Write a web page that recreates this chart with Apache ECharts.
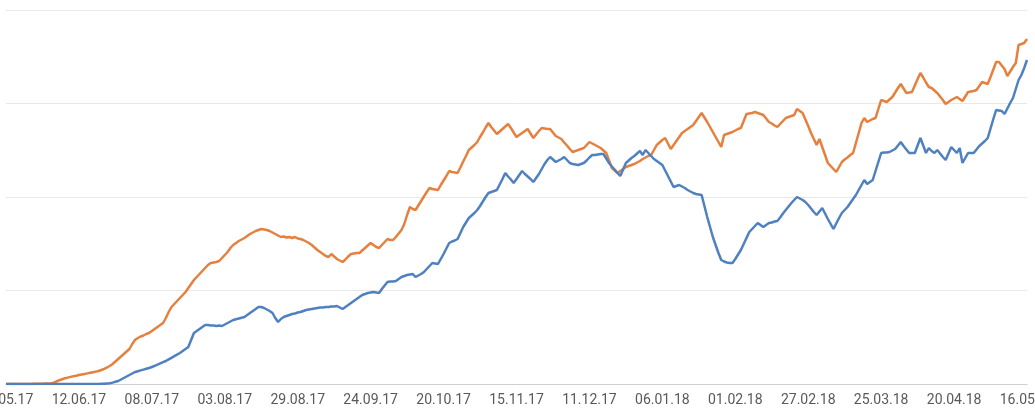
<!DOCTYPE html>
<html>
<head>
<meta charset="utf-8">
<script src="https://cdn.jsdelivr.net/npm/echarts@6/dist/echarts.min.js"></script>
<style>
html,body{margin:0;padding:0;background:#fff;}
#chart{width:1035px;height:410px;}
</style>
</head>
<body>
<div id="chart"></div>
<script>
// Daily categories: 17.05.17 .. 16.05.18 (365 days)
const startDate = '2017-05-17';
const dayCount = 365;
const labelEvery = 26;

// Orange series (index = day)
const seriesOrange = [
0,0,0,0,0,0,0,0,0,0,
0.2,0.2,0.3,0.3,0.4,0.4,0.5,1.3,2.5,3.8,
4.8,5.7,6.4,7.1,7.7,8.3,9,9.5,10,10.6,
11.2,11.8,12.4,13,14,15.2,16.5,18,20,22.5,
25,27.5,30,32.5,35,40,44,46,47.5,48.5,
50,51,53,55,57,59,61,66,72,77,
80,83,86,89,92,96,100,104,107,110,
113,116,119,121,121.5,122,123,126,129,132,
136,139,141,143,144.5,146,148,150,151.5,153,
154,155,154.5,154,153,151.5,150,148.5,147,147.5,
146.5,147,146,147,145.5,145,144,142.5,141,139,
136.5,134,132,130,128,127,130,127.5,125,123.5,
122,124.5,127.5,130,130.5,131,131,133.5,136,138.5,
141,139,137,136,139,142,145,144,144,147,
150.5,154,160,169,177,175,174,178.5,183,187.5,
192,196,195,194.5,194,199,203.5,208,213,212,
211.5,211,216.5,222.5,228,234,236.5,239,242,247,
251.5,256.5,261,257,253.5,250,252.5,255,257.5,260,
256,251.5,247,249,251,253,255,250.5,246,249.5,
253,256,255.5,255,255,251.5,248,246.5,245,241.5,
238.5,235,232,233,234,235,236,239,242,240.5,
239,237.5,236,233.5,231,223.5,216,213.5,211,213,
215,217,218,219,220,221.5,223,225,226.5,228,
229,234,239,241.5,244,246,240.5,235,239,243,
247,251,253,255,257,259,263,267,271,266.5,
262,257,252,247,242,237,249,250,251,252,
253.5,255,256,263,270,270.5,271,272,271,270,
269,265.5,262,260.5,258.5,257,260,263,266,267,
268,269,275,273,271,264.5,258,251,245,239,
245,237,229,221,218,215,212,217,222,224.5,
226.5,229,231,241,251,261,266,262,263.5,265,
266,275,284,283,282,284.5,287,291.5,296,300,
295.5,291,291.5,292,298.5,305,311,306.5,301.5,297,
296,293.5,291,287.5,284,280,282,284,285.5,287,
285,283,287.5,292,292.5,293,294,298,302,301,
300,307,314.5,322,322,318.5,315,308,312.5,317,
321,339,340,341,345
];

// Blue series
const seriesBlue = [
0,0,0,0,0,0,0,0,0,0,
0,0,0,0,0,0,0,0,0,0,
0,0,0,0,0,0,0,0,0,0,
0,0,0,0.1,0.2,0.3,0.5,0.7,1.4,2.2,
3,4.5,6,7.5,9,10.5,12,12.8,13.6,14.4,
15.2,16,17,18.2,19.4,20.6,21.8,23,24.6,26.2,
27.8,29.4,31,33,35,37,44,51,53,55,
57,59,59,58.5,58.5,58,58.5,58,59.5,61,
62.5,64,64.8,65.5,66.3,67,69,71,73,75,
77,77,76,74.5,73,71,66,62,65,67,
68,69,70,70.5,71.5,72,73,74,74.5,75,
75.5,76,76.5,76.5,77,77,77.5,77.5,78,76.5,
75,77,79,81,83,85,87,89,90,91,
91.5,92,91.5,91,95,98.5,102,102.5,102.5,103,
105,107,108,109,109.5,110,107,108.5,110,112,
115,118,121,120.5,120,125,130,135.5,141,142.5,
143.5,145,151,157,161.5,166,168.5,171,174,178,
182.5,187,191,192,193,194,199.5,205,211,207.5,
204.5,201,205,209,213,210,207.5,205,202,206,
210,215,220,224,227,224.5,222,223.5,225,227,
224,221,220,219.5,219,220,221,223.5,226.5,229,
229,229.5,230,230,225.5,221,217.5,214.5,211,208,
214.5,221,223.5,226,228,230.5,233,229,234,231,
228,225,223,221,219,213.5,208,202.5,197,198,
199,197.5,196,194,192.5,191,190,189.5,189,178,
167,157,147,139,131,124,122.5,121.5,121,121,
125,129.5,134,140,146,152,155,158,161,159,
157,159,161,161.5,162.5,163,166.5,170.5,174,177.5,
181,184,187,185.5,184,182,179,175.5,172,169,
172.5,176,170.5,165,160,155,160.5,166,171,174,
177,181,185,189,194,199,204,200,202,204,
213,222,231,231.5,231.5,232,233.5,235,238.5,242,
238,234.5,231,231,231,238.5,246,238.5,231,236,
233,231,234,230.5,227,224,230.5,237,234,231,
236,221,226,231,231,231,234.5,238,240.5,243,
246,255.5,265,274,273.5,273,270,275.5,281,286,
295,304,309,316,324
];

const yMax = 374;
const yStep = 93.5;

function pad(n){ return (n < 10 ? '0' : '') + n; }
const categories = [];
{
  const d0 = new Date(startDate + 'T00:00:00Z');
  for (let i = 0; i < dayCount; i++) {
    const d = new Date(d0.getTime() + i * 86400000);
    categories.push(pad(d.getUTCDate()) + '.' + pad(d.getUTCMonth() + 1) + '.' + String(d.getUTCFullYear()).slice(2));
  }
}

const chart = echarts.init(document.getElementById('chart'), null, {renderer: 'canvas'});
chart.setOption({
  animation: false,
  backgroundColor: '#ffffff',
  grid: {left: 6, right: 8, top: 10, bottom: 26, containLabel: false, outerBoundsMode: 'none'},
  xAxis: {
    type: 'category',
    data: categories,
    boundaryGap: false,
    axisLine: {show: true, lineStyle: {color: '#cfcfcf', width: 1}},
    axisTick: {show: false},
    splitLine: {show: false},
    axisLabel: {
      interval: labelEvery - 1,
      color: '#595959',
      fontFamily: 'Roboto',
      fontSize: 14,
      margin: 9,
      showMinLabel: true,
      showMaxLabel: true,
      hideOverlap: false
    }
  },
  yAxis: {
    type: 'value',
    min: 0,
    max: yMax,
    interval: yStep,
    axisLine: {show: false},
    axisTick: {show: false},
    axisLabel: {show: false},
    splitLine: {show: true, lineStyle: {color: '#e8e8e8', width: 1}}
  },
  series: [
    {
      name: 'orange',
      type: 'line',
      data: seriesOrange,
      showSymbol: false,
      symbol: 'none',
      lineStyle: {color: '#e5803f', width: 2.5},
      itemStyle: {color: '#e5803f'}
    },
    {
      name: 'blue',
      type: 'line',
      data: seriesBlue,
      showSymbol: false,
      symbol: 'none',
      lineStyle: {color: '#4f81c0', width: 2.5},
      itemStyle: {color: '#4f81c0'}
    }
  ]
});
</script>
</body>
</html>
